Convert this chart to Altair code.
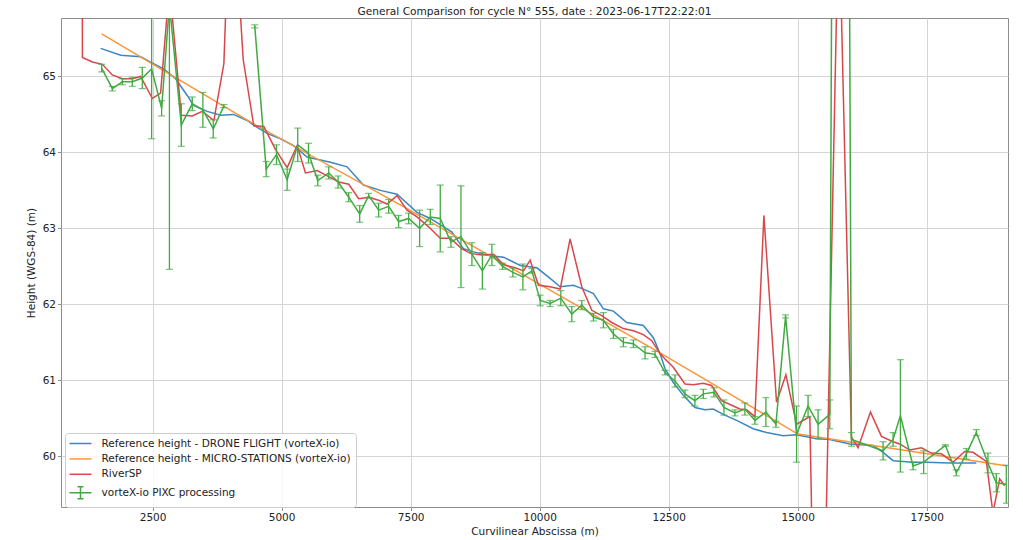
import altair as alt
import pandas as pd

TITLE = "General Comparison for cycle N° 555, date : 2023-06-17T22:22:01"
SERIES = [
    "Reference height - DRONE FLIGHT (vorteX-io)",
    "Reference height - MICRO-STATIONS (vorteX-io)",
    "RiverSP",
    "vorteX-io PIXC processing",
]
COLORS = ["#3a87c2", "#fb963a", "#d9474b", "#42aa42"]
# Legend glyphs: a plain stroke for lines, a stroke with a capped bar for the error-bar series
GLYPHS = [
    "M-2.2,0H2.2",
    "M-2.2,0H2.2",
    "M-2.2,0H2.2",
    "M-2.2,0H2.2M0,-1.2V1.2M-0.6,-1.2H0.6M-0.6,1.2H0.6",
]
X_TICKS = [2500, 5000, 7500, 10000, 12500, 15000, 17500]
Y_TICKS = [60, 61, 62, 63, 64, 65]

# Drone flight reference profile
drone_x = [1494, 1883, 2268, 2462, 2713, 2946, 3171, 3294, 3559, 3817, 4068, 4333,
           4456, 4720, 4978, 5230, 5494, 5945, 6268, 6584, 6913, 7236, 7623, 7881,
           8300, 8525, 8719, 9042, 9300, 9623, 9946, 10203, 10397, 10655, 10848,
           11042, 11235, 11429, 11687, 12009, 12203, 12332, 12429, 12590, 12784,
           13009, 13203, 13364, 13558, 13816, 14139, 14397, 14720, 14978, 15365,
           15622, 16009, 16461, 16654, 16848, 17235, 17493, 17945, 18461]
drone_h = [65.37, 65.28, 65.26, 65.19, 65.10, 64.97, 64.75, 64.62, 64.54, 64.49, 64.50, 64.42,
           64.36, 64.25, 64.18, 64.09, 63.94, 63.87, 63.81, 63.57, 63.50, 63.45, 63.21, 63.13,
           62.95, 62.73, 62.69, 62.64, 62.62, 62.51, 62.48, 62.34, 62.23, 62.25, 62.20,
           62.14, 61.94, 61.91, 61.76, 61.72, 61.56, 61.35, 61.15, 60.97, 60.80,
           60.64, 60.61, 60.62, 60.55, 60.47, 60.36, 60.31, 60.27, 60.28, 60.23,
           60.22, 60.16, 60.14, 60.05, 59.94, 59.92, 59.92, 59.91, 59.91]

# Micro-station reference profile
station_x = [1513, 4449, 7430, 12332, 15003, 19067]
station_h = [65.56, 64.38, 63.26, 61.36, 60.29, 59.87]

# RiverSP nodes
riversp_x = [1135, 1140, 1333, 1527, 1720, 1913, 2107, 2268, 2494, 2655, 2826, 3056,
             3268, 3462, 3687, 3881, 4020, 4256, 4461, 4655, 4881, 5107, 5301, 5462,
             5688, 5913, 6107, 6300, 6494, 6687, 6880, 7042, 7236, 7430, 7623, 7849,
             8074, 8268, 8494, 8655, 8881, 9106, 9299, 9526, 9687, 9816, 9977, 10203,
             10397, 10590, 10816, 11010, 11203, 11397, 11622, 11816, 12009, 12171,
             12332, 12429, 12590, 12816, 12977, 13171, 13332, 13526, 13719, 13881,
             14010, 14171, 14345, 14590, 14771, 14978, 15235, 15405, 15796, 16041,
             16170, 16410, 16623, 16848, 16977, 17170, 17396, 17590, 17784, 18009,
             18235, 18396, 18655, 18783, 18913, 19010]
riversp_h = [67.00, 65.25, 65.19, 65.16, 65.02, 64.97, 64.97, 65.00, 64.71, 64.78, 66.20, 64.49,
             64.48, 64.54, 64.42, 65.17, 67.80, 65.22, 64.35, 64.34, 64.04, 63.80, 64.09, 63.73,
             63.76, 63.68, 63.61, 63.58, 63.39, 63.41, 63.37, 63.32, 63.43, 63.24, 63.15, 63.02,
             62.87, 62.87, 62.73, 62.67, 62.65, 62.66, 62.52, 62.48, 62.44, 62.58, 62.25, 62.23,
             62.20, 62.86, 62.23, 61.92, 61.85, 61.76, 61.68, 61.65, 61.60, 61.52,
             61.35, 61.28, 61.17, 60.95, 60.94, 60.96, 60.93, 60.73, 60.67, 60.62,
             60.61, 60.52, 63.17, 60.71, 61.07, 60.42, 60.52, 54.30, 67.30, 60.25,
             60.11, 60.58, 60.26, 60.19, 60.16, 60.08, 60.11, 60.04, 60.03, 59.92,
             60.06, 60.05, 59.93, 59.25, 59.70, 59.61]

# vorteX-io PIXC processing: height, error half-width, line segment id
pixc_x = [1513, 1720, 1913, 2107, 2300, 2481, 2675, 2826, 3056, 3268, 3474, 3675, 3881,
          4480, 4701, 4900, 5107, 5312, 5520, 5700, 5913, 6094, 6300, 6513, 6687, 6880,
          7074, 7267, 7461, 7674, 7881, 8074, 8281, 8475, 8687, 8890, 9074, 9281, 9481,
          9675, 9849, 10010, 10203, 10410, 10623, 10816, 11042, 11235, 11429, 11622,
          11816, 12042, 12235, 12429, 12622, 12816, 13009, 13171, 13377, 13571, 13784,
          13977, 14171, 14384, 14578, 14765, 14978, 15201, 15395, 15622, 15835, 16041,
          16654, 16848, 16990, 17235, 17441, 17862, 18074, 18268, 18461, 18687, 18848,
          19042]
pixc_h = [65.11, 64.84, 64.93, 64.93, 64.98, 65.10, 64.58, 65.95, 64.36, 64.64, 64.56, 64.31, 64.61,
          65.66, 63.78, 63.97, 63.64, 64.10, 63.99, 63.63, 63.73, 63.61, 63.41, 63.19, 63.43, 63.24,
          63.29, 63.09, 63.13, 63.00, 63.15, 63.13, 62.82, 62.89, 62.66, 62.44, 62.65, 62.50, 62.42,
          62.36, 62.44, 62.05, 62.01, 62.08, 61.87, 61.99, 61.83, 61.79, 61.61, 61.50,
          61.48, 61.36, 61.34, 61.10, 60.99, 60.82, 60.73, 60.82, 60.84, 60.64, 60.57,
          60.62, 60.47, 60.58, 60.42, 61.84, 60.29, 60.66, 60.42, 60.55, 94.00, 60.22,
          60.07, 60.22, 60.53, 59.87, 59.92, 60.14, 59.78, 60.03, 60.31, 59.91, 59.65,
          59.63]
pixc_err = [0.05, 0.03, 0.04, 0.06, 0.14, 0.92, 0.10, 3.49, 0.28, 0.09, 0.23, 0.12, 0.02,
            0.02, 0.10, 0.13, 0.14, 0.22, 0.13, 0.07, 0.08, 0.08, 0.06, 0.11, 0.03, 0.09,
            0.09, 0.08, 0.07, 0.24, 0.10, 0.44, 0.07, 0.67, 0.15, 0.24, 0.14, 0.04, 0.06,
            0.17, 0.03, 0.07, 0.04, 0.10, 0.10, 0.06, 0.05, 0.10, 0.06, 0.06,
            0.05, 0.08, 0.04, 0.03, 0.08, 0.05, 0.07, 0.06, 0.06, 0.10, 0.04,
            0.08, 0.05, 0.19, 0.04, 0.02, 0.37, 0.14, 0.19, 0.19, 0.00, 0.09,
            0.12, 0.09, 0.74, 0.05, 0.15, 0.01, 0.04, 0.07, 0.04, 0.13, 0.12,
            0.25]
pixc_seg = [0] * 13 + [1] * (len(pixc_x) - 13)


def profile(name, xs, hs, segs=None):
    return pd.DataFrame({
        "series": name,
        "x": xs,
        "h": hs,
        "seg": segs if segs is not None else [0] * len(xs),
        "i": range(len(xs)),
    })


lines = pd.concat([
    profile(SERIES[0], drone_x, drone_h),
    profile(SERIES[1], station_x, station_h),
    profile(SERIES[2], riversp_x, riversp_h),
], ignore_index=True)

pixc = profile(SERIES[3], pixc_x, pixc_h, pixc_seg)
pixc["err"] = pixc_err
pixc["lower"] = pixc["h"] - pixc["err"]
pixc["upper"] = pixc["h"] + pixc["err"]
caps = pd.concat([
    pd.DataFrame({"series": SERIES[3], "x": pixc["x"], "h": pixc["lower"]}),
    pd.DataFrame({"series": SERIES[3], "x": pixc["x"], "h": pixc["upper"]}),
], ignore_index=True)

legend_rows = pd.DataFrame({"series": SERIES})

FONT = "DejaVu Sans"
TEXT = "#222222"

x_scale = alt.Scale(domain=[725, 19075], nice=False, zero=False)
y_scale = alt.Scale(domain=[59.33, 65.77], nice=False, zero=False)
color_scale = alt.Scale(domain=SERIES, range=COLORS)

x_enc = alt.X("x:Q", scale=x_scale, title="Curvilinear Abscissa (m)",
              axis=alt.Axis(values=X_TICKS, format="d"))
y_enc = alt.Y("h:Q", scale=y_scale, title="Height (WGS-84) (m)",
              axis=alt.Axis(values=Y_TICKS, format="d"))

legend = alt.Legend(
    title=None,
    orient="none",
    legendX=4,
    legendY=415,
    symbolSize=100,
    symbolStrokeWidth=1.5,
    symbolOpacity=1,
    symbolFillColor="transparent",
    symbolOffset=5,
    labelOffset=15,
    labelFont=FONT,
    labelFontSize=10.5,
    labelColor=TEXT,
    labelLimit=400,
    rowPadding=3.4,
    padding=4.5,
    fillColor="rgba(255,255,255,0.8)",
    strokeColor="#cccccc",
    cornerRadius=3,
)
color_enc = alt.Color("series:N", scale=color_scale, legend=legend)

ref_lines = alt.Chart(lines).mark_line(strokeWidth=1.5, clip=True).encode(
    x=x_enc, y=y_enc, color=color_enc, detail="seg:N", order="i:Q"
)

err_rules = alt.Chart(pixc).mark_rule(strokeWidth=1.3, clip=True).encode(
    x="x:Q", y="lower:Q", y2="upper:Q", color=color_enc
)

err_caps = alt.Chart(caps).mark_tick(orient="horizontal", size=7, thickness=1.2, clip=True).encode(
    x="x:Q", y="h:Q", color=color_enc
)

pixc_line = alt.Chart(pixc).mark_line(strokeWidth=1.5, clip=True).encode(
    x="x:Q", y="h:Q", color=color_enc, detail="seg:N", order="i:Q"
)

# Legend-only layer: transparent marks carrying the colour and glyph scales
legend_layer = alt.Chart(legend_rows).mark_point(filled=False, opacity=0).encode(
    color=color_enc,
    shape=alt.Shape("series:N", scale=alt.Scale(domain=SERIES, range=GLYPHS), legend=legend),
)

chart = (
    alt.layer(ref_lines, err_rules, err_caps, pixc_line, legend_layer)
    .properties(
        width=947,
        height=489,
        autosize=alt.AutoSizeParams(type="none"),
        padding={"left": 61, "top": 18, "right": 15, "bottom": 33},
        title=alt.TitleParams(TITLE, font=FONT, fontSize=10.6, fontWeight="normal",
                              color=TEXT, anchor="middle", offset=0),
    )
    .configure(font=FONT, background="white")
    .configure_view(stroke="#8c8c8c", strokeWidth=1)
    .configure_axis(
        labelFont=FONT, labelFontSize=10.5, labelColor=TEXT,
        titleFont=FONT, titleFontSize=10.5, titleColor=TEXT, titleFontWeight="normal",
        grid=True, gridColor="#d4d4d4", gridWidth=1,
        domain=False, tickColor="#8c8c8c", tickSize=3.5, labelPadding=2,
    )
    .configure_axisX(titlePadding=3)
    .configure_axisY(titlePadding=6)
)

chart.save("out.html", embed_options={"renderer": "svg", "actions": False})
